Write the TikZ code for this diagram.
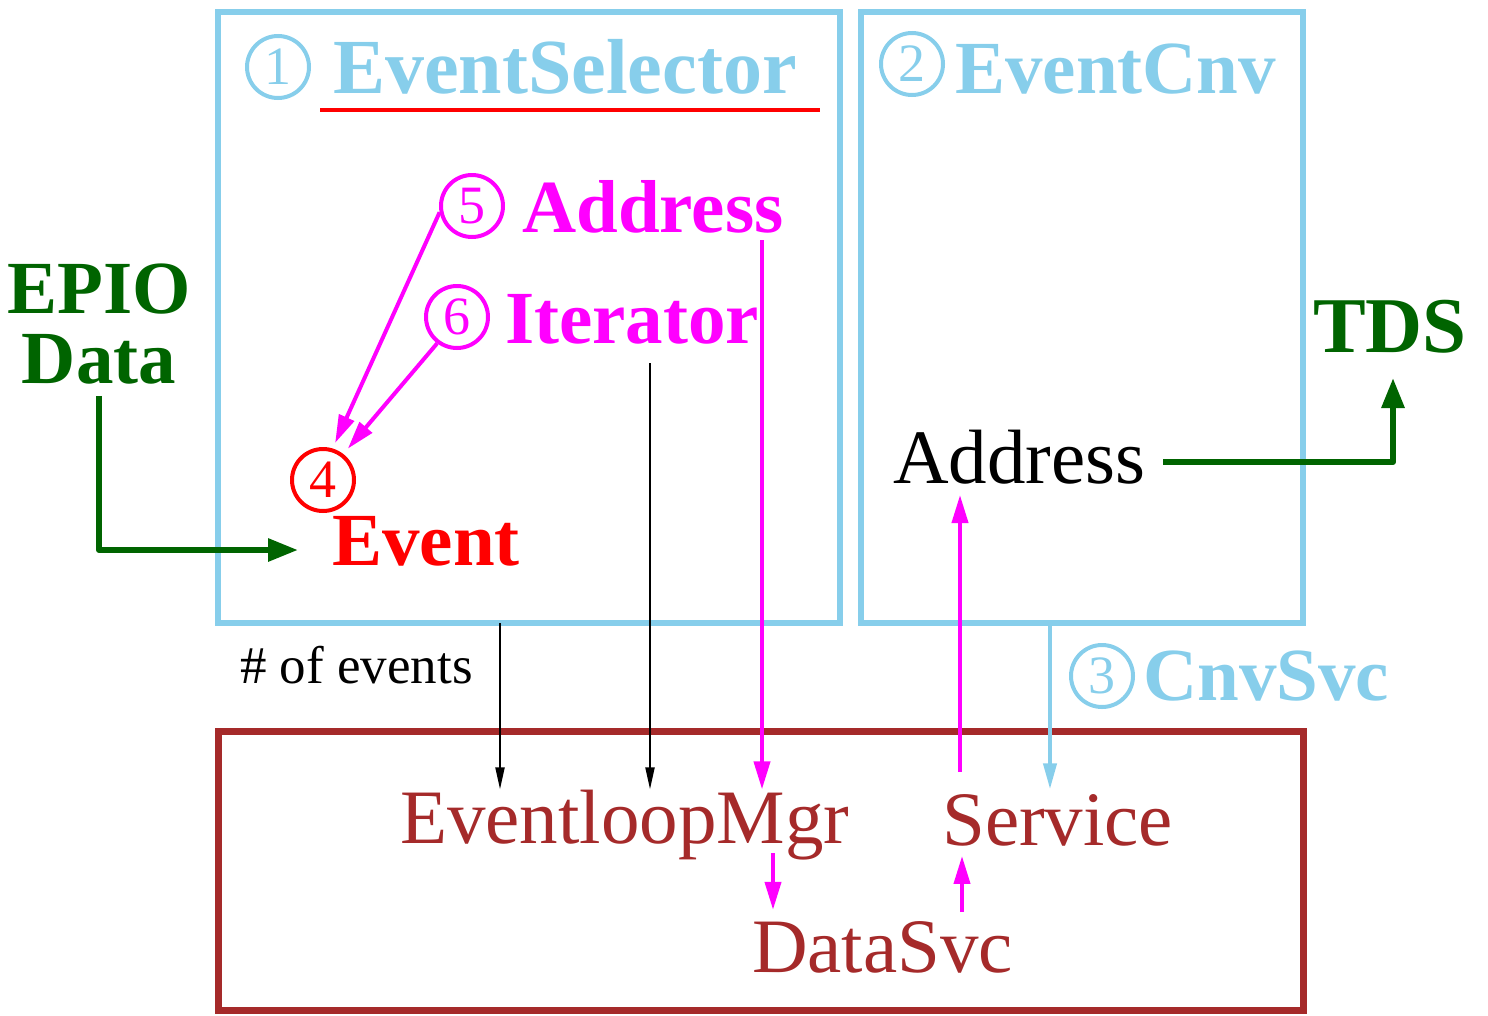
\documentclass[tikz,border=0pt]{standalone}
\usepackage{fontspec}
\setmainfont{Liberation Serif}
\usepackage{xcolor}
\usepackage{tikz}
\usetikzlibrary{arrows, arrows.meta}
\usetikzlibrary{positioning}
\usetikzlibrary{calc}
\definecolor{skyline}{RGB}{135,206,235}
\definecolor{darkgr}{RGB}{0,100,0}
\definecolor{rust}{RGB}{165,42,42}
\definecolor{fuchsia}{RGB}{255,0,255}

\begin{document}
\begin{tikzpicture}[x=1pt, y=-1pt,
	numcirc/.style={circle, draw, line width=4pt, minimum size=62pt, inner sep=0pt, font=\fontsize{54}{54}\selectfont},
	boldtxt/.style={inner sep=0pt, anchor=base west, font=\fontsize{75}{75}\selectfont\bfseries},
	plaintxt/.style={inner sep=0pt, anchor=base west, font=\fontsize{77}{77}\selectfont},
	pinkarr/.style={draw=fuchsia, line width=4pt, -{Triangle[length=28pt, width=16pt]}},
	greenarr/.style={draw=darkgr, line width=6pt, line join=round, -{Triangle[length=30pt, width=22pt]}},
	thinarr/.style={draw=black, line width=2pt, -{Triangle[length=22pt, width=9pt]}},
	bluearr/.style={draw=skyline, line width=4pt, -{Triangle[length=26pt, width=13pt]}}]
	\useasboundingbox (0,0) rectangle (1488,1015);

	% boxes
	\node[draw=skyline, line width=6pt, minimum width=622pt, minimum height=611pt, inner sep=0pt] (boxSel) at (529,317.5) {};
	\node[draw=skyline, line width=6pt, minimum width=442pt, minimum height=611pt, inner sep=0pt] (boxCnv) at (1082,317.5) {};
	\node[draw=rust, line width=7pt, minimum width=1085pt, minimum height=279pt, inner sep=0pt] (boxSvc) at (760.5,870.5) {};

	% titles
	\node[numcirc, skyline] (numOne) at (278,67) {1};
	\node[boldtxt, skyline, font=\fontsize{78}{78}\selectfont\bfseries] (txtSel) at (333,93) {EventSelector};
	\draw[red, line width=4pt] (320,110) -- (820,110);
	\node[numcirc, skyline] (numTwo) at (912,64) {2};
	\node[boldtxt, skyline] (txtCnv) at (955,93) {EventCnv};
	\node[numcirc, skyline] (numThree) at (1102,676) {3};
	\node[boldtxt, skyline] (txtCnvSvc) at (1143,700) {CnvSvc};

	% inside EventSelector
	\node[numcirc, fuchsia] (numFive) at (472,206) {5};
	\node[boldtxt, fuchsia] (txtAdr) at (522,232) {Address};
	\node[numcirc, fuchsia] (numSix) at (457,317) {6};
	\node[boldtxt, fuchsia] (txtIter) at (505,343) {Iterator};
	\node[numcirc, red] (numFour) at (323,480) {4};
	\node[boldtxt, red] (txtEvent) at (332,565) {Event};

	% outside labels
	\node[inner sep=0pt, anchor=north, align=center, darkgr, font=\fontsize{75}{70}\selectfont\bfseries] (epio) at (99,264) {EPIO\\Data};
	\node[boldtxt, darkgr, font=\fontsize{79}{79}\selectfont\bfseries] (tds) at (1313,352) {TDS};
	\node[plaintxt] (adrBlack) at (893,483) {Address};
	\node[inner sep=0pt, anchor=base west, font=\fontsize{53}{53}\selectfont] (txtNev) at (240,683) {\# of events};

	% services
	\node[plaintxt, rust] (txtLoop) at (400,843) {EventloopMgr};
	\node[plaintxt, rust] (txtSvc) at (942,845) {Service};
	\node[plaintxt, rust] (txtData) at (752,972) {DataSvc};

	\coordinate (nevFoot) at (500,623);
	\coordinate (iterFoot) at (650,363);
	\coordinate (adrFoot) at (762,240);
	\coordinate (cnvFoot) at (1050,623);
	\coordinate (svcTop) at (960,772);
	\coordinate (adrTip) at (960,495);
	\coordinate (mgrDrop) at (773,853);
	\coordinate (svcRise) at (962,912);
	\coordinate (epioEnd) at (298,550);
	\coordinate (tdsStart) at (1163,462);
	\coordinate (tdsTip) at (1393,378);

	\draw[pinkarr, shorten >=6pt] (numFive.191) -- (numFour.73);
	\draw[pinkarr, shorten >=7pt] (numSix.233) -- (numFour.52);
	\draw[greenarr] ([yshift=-11pt]epio.south) |- (epioEnd);
	\draw[greenarr] (tdsStart) -| (tdsTip);
	\draw[thinarr] (nevFoot) -- (nevFoot |- txtLoop.north);
	\draw[thinarr] (iterFoot) -- (iterFoot |- txtLoop.north);
	\draw[pinkarr] (adrFoot) -- (adrFoot |- txtLoop.north);
	\draw[bluearr] (cnvFoot) -- (cnvFoot |- txtLoop.north);
	\draw[pinkarr] (svcTop) -- (adrTip);
	\draw[pinkarr, shorten >=11pt] (mgrDrop) -- (mgrDrop |- txtData.north);
	\draw[pinkarr, shorten >=10pt] (svcRise) -- (svcRise |- txtSvc.south);
\end{tikzpicture}
\end{document}
